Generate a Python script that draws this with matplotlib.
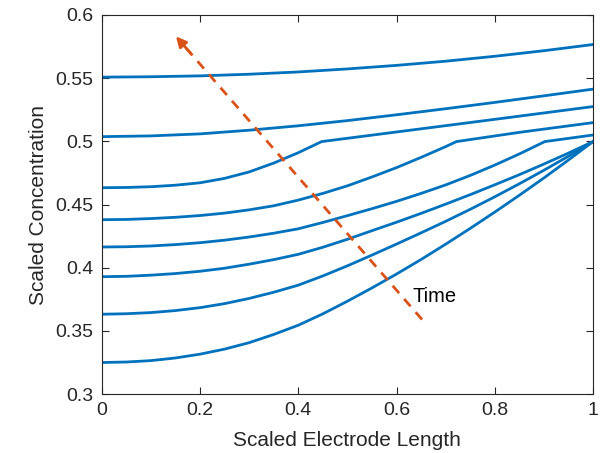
import matplotlib
matplotlib.use('Agg')
import matplotlib.pyplot as plt

# concentration profiles (x, y per curve, early -> late)
x1 = [0, 0.1, 0.2, 0.3, 0.4, 0.5, 0.6, 0.7, 0.8, 0.9, 1.0]
y1 = [0.5508, 0.5511, 0.5518, 0.5531, 0.5549, 0.5573, 0.5601, 0.5634, 0.5673, 0.5717, 0.5766]

x2 = [0, 0.1, 0.2, 0.3, 0.4, 0.5, 0.6, 0.7, 0.8, 0.9, 1.0]
y2 = [0.5037, 0.5043, 0.5059, 0.5088, 0.5123, 0.5164, 0.521, 0.5258, 0.5308, 0.536, 0.5413]

x3 = [0, 0.05, 0.1, 0.15, 0.2, 0.25, 0.3, 0.35, 0.4, 0.4475, 0.6, 0.8, 1.0]
y3 = [0.4633, 0.4635, 0.4641, 0.4653, 0.4672, 0.4707, 0.4758, 0.4828, 0.491, 0.4998,
      0.5074, 0.5174, 0.5275]

x4 = [0, 0.05, 0.1, 0.15, 0.2, 0.25, 0.3, 0.35, 0.4, 0.45, 0.5, 0.55, 0.6, 0.65,
      0.7, 0.722, 0.85, 1.0]
y4 = [0.438, 0.4382, 0.4389, 0.4399, 0.4413, 0.4432, 0.4458, 0.449, 0.4535, 0.4588,
      0.4648, 0.4718, 0.4792, 0.4873, 0.4958, 0.4998, 0.5071, 0.5148]

x5 = [0, 0.05, 0.1, 0.15, 0.2, 0.25, 0.3, 0.35, 0.4, 0.45, 0.5, 0.55, 0.6, 0.65,
      0.7, 0.75, 0.8, 0.85, 0.902, 1.0]
y5 = [0.4164, 0.4166, 0.4172, 0.4183, 0.4198, 0.4218, 0.4243, 0.4273, 0.4308, 0.4358,
      0.4412, 0.4467, 0.4525, 0.4588, 0.4655, 0.473, 0.4812, 0.49, 0.4998, 0.505]

x6 = [0, 0.05, 0.1, 0.15, 0.2, 0.25, 0.3, 0.35, 0.4, 0.45, 0.5, 0.55, 0.6, 0.65,
      0.7, 0.75, 0.8, 0.85, 0.9, 0.95, 1.0]
y6 = [0.3929, 0.3932, 0.3941, 0.3954, 0.3972, 0.3996, 0.4028, 0.4064, 0.4106, 0.4162,
      0.4225, 0.4293, 0.436, 0.443, 0.4503, 0.4578, 0.4656, 0.4736, 0.482, 0.4907, 0.4998]

x7 = [0, 0.05, 0.1, 0.15, 0.2, 0.25, 0.3, 0.35, 0.4, 0.45, 0.5, 0.55, 0.6, 0.65,
      0.7, 0.75, 0.8, 0.85, 0.9, 0.95, 1.0]
y7 = [0.3632, 0.3636, 0.3645, 0.3661, 0.3684, 0.3716, 0.3757, 0.3806, 0.3862, 0.3935,
      0.4015, 0.41, 0.4187, 0.4276, 0.4367, 0.4462, 0.4561, 0.4664, 0.4771, 0.4882, 0.4997]

x8 = [0, 0.05, 0.1, 0.15, 0.2, 0.25, 0.3, 0.35, 0.4, 0.45, 0.5, 0.55, 0.6, 0.65,
      0.7, 0.75, 0.8, 0.85, 0.9, 0.95, 1.0]
y8 = [0.325, 0.3254, 0.3265, 0.3286, 0.3316, 0.3356, 0.3407, 0.3472, 0.3545, 0.3635,
      0.3735, 0.384, 0.395, 0.4065, 0.4186, 0.4311, 0.444, 0.4573, 0.471, 0.4852, 0.4998]

curves = [(x1, y1), (x2, y2), (x3, y3), (x4, y4),
          (x5, y5), (x6, y6), (x7, y7), (x8, y8)]

xticks = [0, 0.2, 0.4, 0.6, 0.8, 1.0]
xticklabels = ['0', '0.2', '0.4', '0.6', '0.8', '1']
yticks = [0.3, 0.35, 0.4, 0.45, 0.5, 0.55, 0.6]
yticklabels = ['0.3', '0.35', '0.4', '0.45', '0.5', '0.55', '0.6']

arrow_tail = (0.652, 0.359)
arrow_head = (0.151, 0.583)
time_pos = (0.633, 0.377)

blue = '#0072BD'
orange = '#D95319'
grey = '#262626'

plt.rcParams['font.family'] = ['Liberation Sans', 'DejaVu Sans']
tick_fs = 14
label_fs = 15

fig = plt.figure(figsize=(6.06, 4.53), dpi=100)
ax = fig.add_axes([0.168, 0.130, 0.8105, 0.837])

for xs, ys in curves:
    ax.plot(xs, ys, color=blue, linewidth=2.0, solid_joinstyle='round')

# dashed "Time" arrow
hx, hy = arrow_head
tx, ty = arrow_tail
ax.plot([tx, hx + (tx - hx) * 0.03], [ty, hy + (ty - hy) * 0.03],
        color=orange, linewidth=2.0, dashes=(3.5, 2.8))
ax.annotate('', xy=arrow_head, xytext=(hx + (tx - hx) * 0.06, hy + (ty - hy) * 0.06),
            arrowprops=dict(arrowstyle='-|>,head_length=0.6,head_width=0.3',
                            color=orange, linewidth=2.0, shrinkA=0, shrinkB=0))
ax.text(time_pos[0], time_pos[1], 'Time', fontsize=14.5, color='k',
        ha='left', va='center')

ax.set_xlim(0, 1)
ax.set_ylim(0.3, 0.6)
ax.set_xticks(xticks)
ax.set_xticklabels(xticklabels)
ax.set_yticks(yticks)
ax.set_yticklabels(yticklabels)
ax.tick_params(direction='in', length=5, width=0.8, colors=grey,
               labelsize=tick_fs, top=True, right=True, pad=6)
for s in ax.spines.values():
    s.set_color(grey)
    s.set_linewidth(0.8)

ax.set_xlabel('Scaled Electrode Length', fontsize=label_fs, color=grey, labelpad=8)
ax.set_ylabel('Scaled Concentration', fontsize=label_fs, color=grey, labelpad=5)

fig.savefig('out.png', dpi=100)
